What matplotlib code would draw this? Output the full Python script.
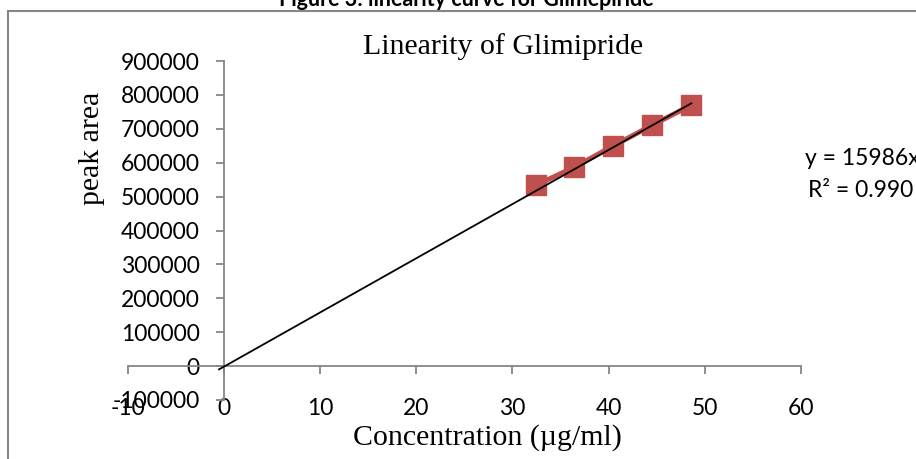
import numpy as np
import matplotlib
matplotlib.use("Agg")
import matplotlib.pyplot as plt
from matplotlib.patches import Rectangle

# ------------------------------------------------------------
# data
# ------------------------------------------------------------
conc = [32.4, 36.45, 40.5, 44.55, 48.6]
peak_area = [533000, 587000, 650000, 711000, 770000]

trend_slope = 15986
trend_intercept = -1700
trend_x = [-0.5, 48.6]

x_ticks = [-10, 0, 10, 20, 30, 40, 50, 60]
y_ticks = [-100000, 0, 100000, 200000, 300000, 400000, 500000, 600000, 700000, 800000, 900000]

W, H = 916, 459
RED = "#C0504D"
AXIS_GRAY = "#868686"
SANS = "Lato"
SERIF = "Liberation Serif"

fig = plt.figure(figsize=(W / 100, H / 100), dpi=100)

# outer chart frame (cut by the image edge on the right and bottom)
fig.patches.append(Rectangle((8 / W, -0.1), 1.2, 1.1 - 11 / H, transform=fig.transFigure,
                             fill=False, edgecolor=AXIS_GRAY, linewidth=1.5))

ax = fig.add_axes([127.7 / W, 1 - 400 / H, (801 - 127.7) / W, (400 - 61) / H])
ax.set_facecolor("none")
ax.set_xlim(x_ticks[0], x_ticks[-1])
ax.set_ylim(y_ticks[0], y_ticks[-1])

ax.plot(conc, peak_area, color=RED, linewidth=3.6, marker="s", markersize=14.5,
        markerfacecolor=RED, markeredgecolor=RED, zorder=3, clip_on=False)

tx = np.array(trend_x)
ax.plot(tx, trend_slope * tx + trend_intercept, color="black", linewidth=1.3, zorder=4)

# axes cross at the origin, like the Excel chart
for side in ["top", "right"]:
    ax.spines[side].set_visible(False)
ax.spines["left"].set_position(("data", 0))
ax.spines["bottom"].set_position(("data", 0))
for side in ["left", "bottom"]:
    ax.spines[side].set_color(AXIS_GRAY)
    ax.spines[side].set_linewidth(1.3)

ax.set_xticks(x_ticks)
ax.set_yticks(y_ticks)
ax.set_xticklabels([str(v) for v in x_ticks])
ax.set_yticklabels([str(v) for v in y_ticks])
ax.tick_params(axis="x", direction="out", length=6, width=1.3, color=AXIS_GRAY, pad=17)
ax.tick_params(axis="y", direction="out", length=5.5, width=1.3, color=AXIS_GRAY, pad=12)
for lab in ax.get_xticklabels() + ax.get_yticklabels():
    lab.set_fontfamily(SANS)
    lab.set_fontsize(16.5)

# texts
fig.text(466 / W, 1 - 6.5 / H, "Figure 3: linearity curve for Glimepiride", ha="center",
         va="baseline", fontfamily=SANS, fontweight="bold", fontsize=15.5)
fig.text(503 / W, 1 - 54 / H, "Linearity of Glimipride", ha="center", va="baseline",
         fontfamily=SERIF, fontsize=21.5)
fig.text(92 / W, 1 - 148.5 / H, "peak area", ha="center", va="center", rotation=90,
         fontfamily=SERIF, fontsize=21.5)
fig.text(487 / W, 1 - 445 / H, "Concentration (µg/ml)", ha="center", va="baseline",
         fontfamily=SERIF, fontsize=21.5)
fig.text(805 / W, 1 - 165 / H, "y = 15986x", ha="left", va="baseline",
         fontfamily=SANS, fontsize=16.5)
fig.text(808 / W, 1 - 196.7 / H, "R² = 0.990", ha="left", va="baseline",
         fontfamily=SANS, fontsize=16.5)

fig.savefig("out.png", dpi=100)
